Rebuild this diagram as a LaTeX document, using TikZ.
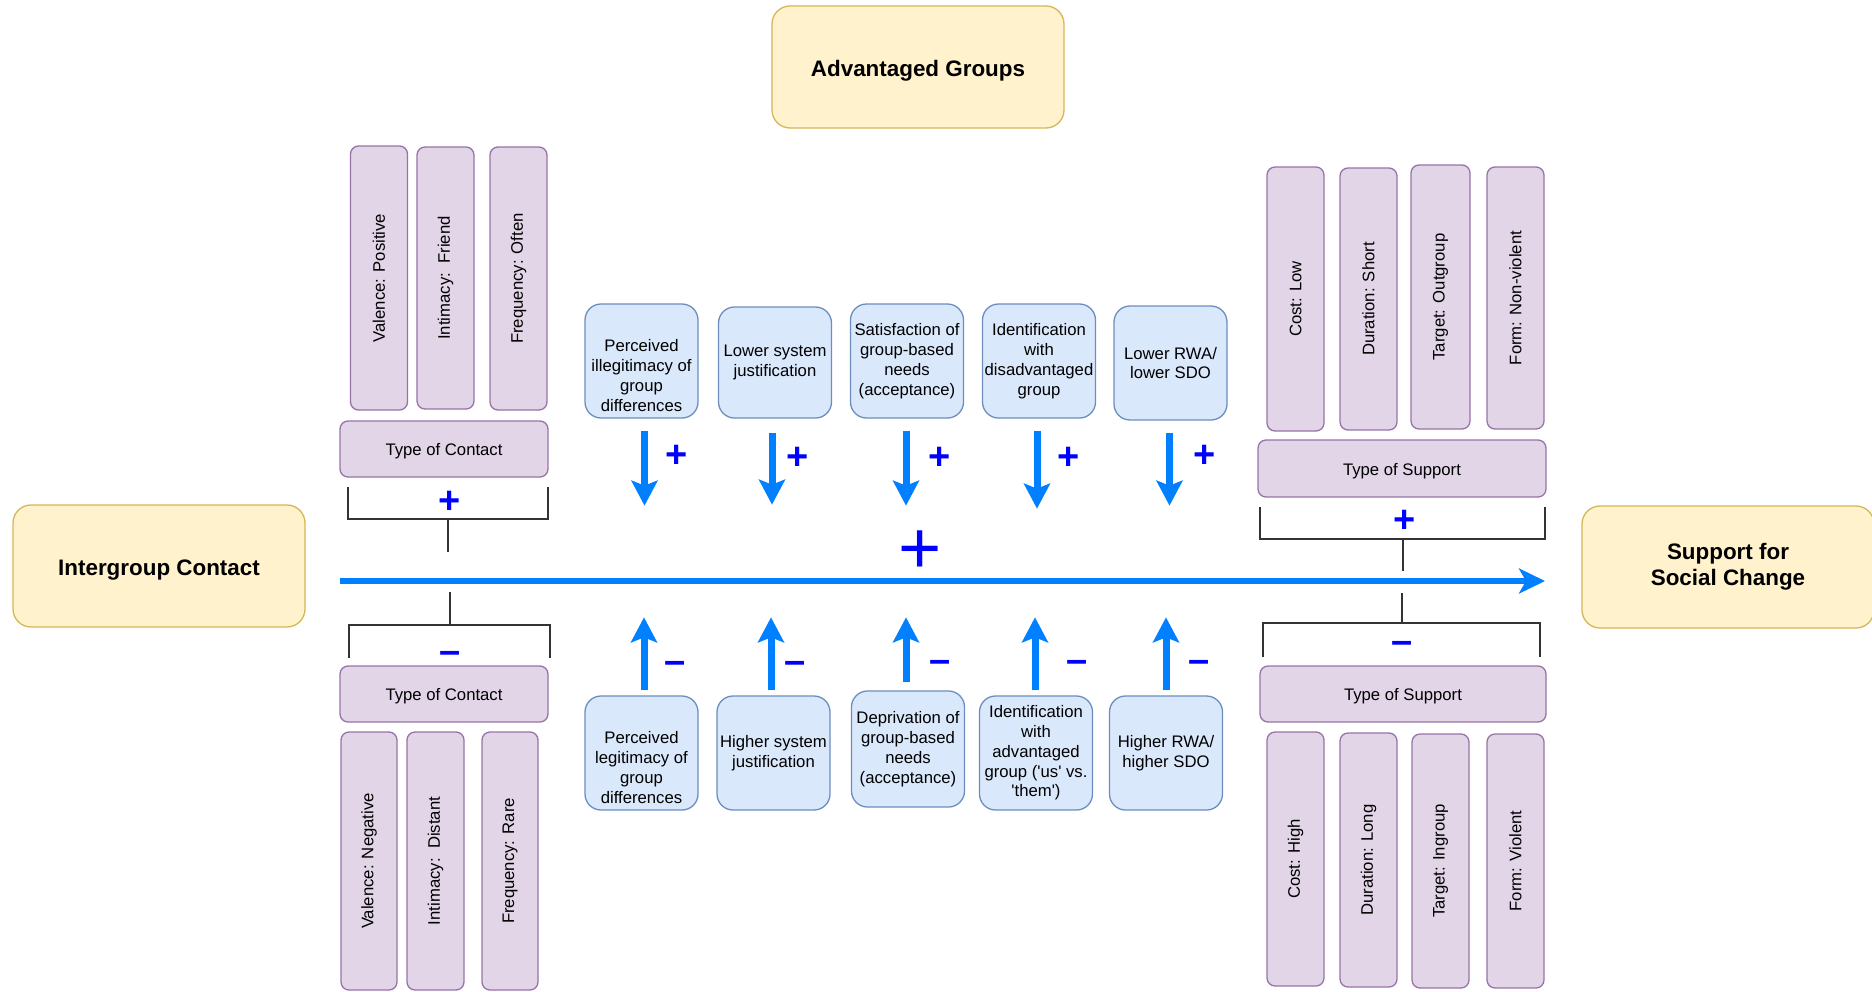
\documentclass[tikz,border=0pt]{standalone}
\usepackage{fontspec}
\setmainfont{Liberation Sans}
\usetikzlibrary{arrows.meta}
\definecolor{yfill}{HTML}{FFF2CC}
\definecolor{ystroke}{HTML}{D6B656}
\definecolor{pfill}{HTML}{E1D5E7}
\definecolor{pstroke}{HTML}{9673A6}
\definecolor{bfill}{HTML}{DAE8FC}
\definecolor{bstroke}{HTML}{6C8EBF}
\definecolor{arrblue}{HTML}{007FFF}
\definecolor{signblue}{HTML}{0000FF}
\definecolor{brk}{HTML}{333333}
\tikzset{
  ybox/.style={draw=ystroke, fill=yfill, rounded corners=18pt, line width=1.3pt, align=center,
    minimum width=292pt, minimum height=122pt, inner sep=2pt,
    font=\bfseries\fontsize{22.4}{26}\selectfont, execute at begin node={\rule{0pt}{23.4pt}}},
  pboxbase/.style={draw=pstroke, fill=pfill, rounded corners=8pt, line width=1.3pt, inner sep=2pt,
    font=\fontsize{16.7}{20}\selectfont},
  pbox/.style={pboxbase, execute at begin node={\rule{0pt}{17pt}}},
  vbox/.style={pboxbase, rotate=90, minimum height=57pt},
  bbox/.style={draw=bstroke, fill=bfill, rounded corners=16pt, line width=1.3pt, align=center,
    minimum width=113pt, minimum height=114pt, inner sep=1pt,
    font=\fontsize{16.7}{19.8}\selectfont, execute at begin node={\rule{0pt}{26pt}}},
  sarrow/.style={draw=arrblue, line width=7pt, -{Stealth[length=25pt, width=26pt, inset=5pt]}},
  marrow/.style={draw=arrblue, line width=6pt, -{Stealth[length=26pt, width=25pt, inset=7pt]}},
  plussign/.style={text=signblue, inner sep=0pt, text height=26.8pt, text depth=0pt,
    font=\bfseries\fontsize{38}{38}\selectfont},
  minussign/.style={text=signblue, inner sep=0pt, text height=20.1pt, text depth=0pt,
    font=\bfseries\fontsize{38}{38}\selectfont},
  bigsign/.style={text=signblue, inner sep=0pt, text height=52.2pt, text depth=0pt,
    font=\fontsize{74}{74}\selectfont},
  brack/.style={draw=brk, line width=2pt}
}
\begin{document}
\begin{tikzpicture}[x=1pt,y=-1pt]
\useasboundingbox (0,0) rectangle (1872,991);

% main boxes
\node[ybox] (adv) at (918,67) {Advantaged Groups};
\node[ybox] (igc) at (159,566) {Intergroup Contact};
\node[ybox] (ssc) at (1728,567) {Support for\\Social Change};

% main arrow
\coordinate (ma1) at (340,581);
\coordinate (ma2) at (1545,581);
\draw[marrow] (ma1) -- (ma2);
\node[bigsign] (bigplus) at (920,547) {+};

% upper-left contact
\node[vbox, minimum width=264pt] (vpos) at (379,278) {Valence: Positive};
\node[vbox, minimum width=262pt] (ifr) at (445.5,278) {Intimacy:\ \ Friend};
\node[vbox, minimum width=263pt] (fof) at (518.5,278.5) {Frequency: Often};
\node[pbox, minimum width=208pt, minimum height=56pt] (toc1) at (444,449) {Type of Contact};
\coordinate (b1l) at (348,487);
\coordinate (b1r) at (548,487);
\coordinate (b1m) at (448,519);
\coordinate (b1e) at (448,552);
\draw[brack] (b1l) |- (b1m) -| (b1r);
\draw[brack] (b1m) -- (b1e);
\node[plussign] (p1) at (450,500) {+};

% lower-left contact
\coordinate (b2s) at (450,592);
\coordinate (b2m) at (450,625);
\coordinate (b2l) at (349,658);
\coordinate (b2r) at (550,658);
\draw[brack] (b2s) -- (b2m);
\draw[brack] (b2l) |- (b2m) -| (b2r);
\node[minussign] (m1) at (450,653) {–};
\node[pbox, minimum width=208pt, minimum height=56pt] (toc2) at (444,694) {Type of Contact};
\node[vbox, minimum width=258pt, minimum height=56pt] (vneg) at (369,861) {Valence: Negative};
\node[vbox, minimum width=258pt] (idi) at (435.5,861) {Intimacy:\ \ Distant};
\node[vbox, minimum width=258pt, minimum height=56pt] (fra) at (510,861) {Frequency: Rare};

% upper-right support
\node[vbox, minimum width=264pt] (clo) at (1295.5,299) {Cost: Low};
\node[vbox, minimum width=262pt] (dsh) at (1368.5,299) {Duration: Short};
\node[vbox, minimum width=264pt, minimum height=59pt] (tout) at (1440.5,297) {Target: Outgroup};
\node[vbox, minimum width=262pt] (fnv) at (1515.5,298) {Form: Non-violent};
\node[pbox, minimum width=288pt, minimum height=57pt] (tos1) at (1402,468.5) {Type of Support};
\coordinate (b3l) at (1260,507);
\coordinate (b3r) at (1545,507);
\coordinate (b3m) at (1403,539);
\coordinate (b3e) at (1403,571);
\draw[brack] (b3l) |- (b3m) -| (b3r);
\draw[brack] (b3m) -- (b3e);
\node[plussign] (p2) at (1405,519) {+};

% lower-right support
\coordinate (b4s) at (1402,593);
\coordinate (b4m) at (1402,623);
\coordinate (b4l) at (1263,657);
\coordinate (b4r) at (1540,657);
\draw[brack] (b4s) -- (b4m);
\draw[brack] (b4l) |- (b4m) -| (b4r);
\node[minussign] (m2) at (1402,643) {–};
\node[pbox, minimum width=286pt, minimum height=56pt] (tos2) at (1403,694) {Type of Support};
\node[vbox, minimum width=254pt] (chi) at (1295.5,859) {Cost: High};
\node[vbox, minimum width=254pt] (dlo) at (1368.5,860) {Duration: Long};
\node[vbox, minimum width=254pt] (tin) at (1440.5,861) {Target: Ingroup};
\node[vbox, minimum width=254pt] (fvi) at (1515.5,861) {Form: Violent};

% upper mediators
\node[bbox] (u1) at (641.5,361) {\rule{0pt}{41pt}Perceived\\illegitimacy of\\group\\differences};
\node[bbox, minimum height=111pt] (u2) at (775,362.5) {Lower system\\justification};
\node[bbox] (u3) at (907,361) {Satisfaction of\\group-based\\needs\\(acceptance)};
\node[bbox] (u4) at (1039,361) {Identification\\with\\disadvantaged\\group};
\node[bbox] (u5) at (1170.5,363) {Lower RWA/\\lower SDO};

\draw[sarrow] ([xshift=3pt,yshift=-12pt]u1.south) -- ++(0,75);
\draw[sarrow] ([xshift=-3pt,yshift=-14pt]u2.south) -- ++(0,72);
\draw[sarrow] ([xshift=-1pt,yshift=-12pt]u3.south) -- ++(0,75);
\draw[sarrow] ([xshift=-2pt,yshift=-12pt]u4.south) -- ++(0,78);
\draw[sarrow] ([xshift=-1pt,yshift=-12pt]u5.south) -- ++(0,73);

\node[plussign] (pu1) at (677,454) {+};
\node[plussign] (pu2) at (798,456) {+};
\node[plussign] (pu3) at (940,456) {+};
\node[plussign] (pu4) at (1069,456) {+};
\node[plussign] (pu5) at (1205,454) {+};

% lower mediators
\node[bbox] (l1) at (641.5,753) {\rule{0pt}{41pt}Perceived\\legitimacy of\\group\\differences};
\node[bbox] (l2) at (773.5,753) {Higher system\\justification};
\node[bbox, minimum height=116pt] (l3) at (908,749) {Deprivation of\\group-based\\needs\\(acceptance)};
\node[bbox] (l4) at (1036,753) {Identification\\with\\advantaged\\group (\textquotesingle us\textquotesingle\ vs.\\\textquotesingle them\textquotesingle)};
\node[bbox] (l5) at (1166,753) {Higher RWA/\\higher SDO};

\draw[sarrow] ([xshift=2.5pt,yshift=5pt]l1.north) -- ++(0,-73);
\draw[sarrow] ([xshift=-2.5pt,yshift=5pt]l2.north) -- ++(0,-73);
\draw[sarrow] ([xshift=-2pt,yshift=8pt]l3.north) -- ++(0,-65);
\draw[sarrow] ([xshift=-1pt,yshift=5pt]l4.north) -- ++(0,-73);
\draw[sarrow] ([yshift=5pt]l5.north) -- ++(0,-73);

\node[minussign] (mu1) at (675,663) {–};
\node[minussign] (mu2) at (795,663) {–};
\node[minussign] (mu3) at (940,662) {–};
\node[minussign] (mu4) at (1077,662) {–};
\node[minussign] (mu5) at (1199,662) {–};
\end{tikzpicture}
\end{document}
